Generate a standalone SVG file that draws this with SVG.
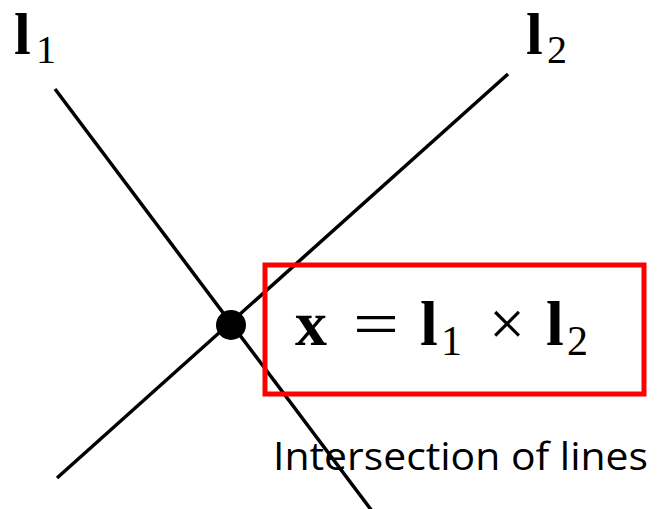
<svg xmlns="http://www.w3.org/2000/svg" width="658" height="509" viewBox="0 0 658 509">
<style>
.m{font-family:"Liberation Serif","DejaVu Serif",serif;fill:#000}
.b{font-weight:bold}
.ln{stroke:#000;stroke-width:3.5;fill:none}
</style>
<rect width="658" height="509" fill="#fff"/>
<g id="connectors">
<line class="ln" x1="55" y1="89" x2="372" y2="511"/>
<line class="ln" x1="508" y1="74" x2="57" y2="478"/>
</g>
<g id="label-l1">
<text class="m b" x="14" y="54" font-size="60">l</text>
<text class="m" x="36" y="63" font-size="40">1</text>
</g>
<g id="label-l2">
<text class="m b" x="526" y="54" font-size="60">l</text>
<text class="m" x="547" y="63" font-size="40">2</text>
</g>
<g id="point">
<circle cx="231" cy="325" r="15" fill="#000"/>
</g>
<g id="formula-box">
<rect x="265" y="265" width="379" height="129" fill="none" stroke="#f00" stroke-width="5"/>
<text class="m b" x="295" y="345" font-size="64">x</text>
<text class="m" x="353" y="345" font-size="64" textLength="46" lengthAdjust="spacingAndGlyphs">=</text>
<text class="m b" x="420" y="345" font-size="64">l</text>
<text class="m" x="441" y="355" font-size="42">1</text>
<text class="m" x="489" y="345" font-size="64" textLength="36" lengthAdjust="spacingAndGlyphs">×</text>
<text class="m b" x="546" y="345" font-size="64">l</text>
<text class="m" x="567" y="355" font-size="42">2</text>
</g>
<g id="caption">
<text x="273" y="470" font-family="'Open Sans','Noto Sans',sans-serif" font-size="38" textLength="375" lengthAdjust="spacingAndGlyphs">Intersection of lines</text>
</g>
</svg>
